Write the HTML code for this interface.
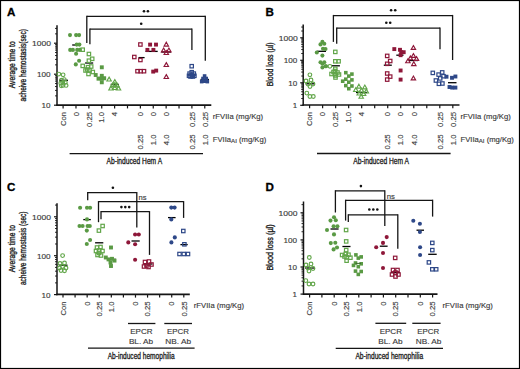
<!DOCTYPE html>
<html><head><meta charset="utf-8"><style>
html,body{margin:0;padding:0;background:#fff;}
#w{position:relative;width:520px;height:369px;overflow:hidden;background:#fff;}
svg{position:absolute;left:0;top:0;}
text{font-family:"Liberation Sans",sans-serif;}
</style></head><body><div id="w">
<svg width="520" height="369" viewBox="0 0 520 369">
<rect x="0" y="0" width="520" height="369" fill="#fff"/>
<line x1="59.00" y1="80.30" x2="68.00" y2="80.30" stroke="#000" stroke-width="1.3"/>
<line x1="72.20" y1="45.00" x2="80.50" y2="45.00" stroke="#000" stroke-width="1.3"/>
<line x1="85.10" y1="63.00" x2="93.20" y2="63.00" stroke="#000" stroke-width="1.3"/>
<line x1="98.00" y1="77.50" x2="106.00" y2="77.50" stroke="#000" stroke-width="1.3"/>
<line x1="110.70" y1="84.40" x2="118.80" y2="84.40" stroke="#000" stroke-width="1.3"/>
<line x1="138.50" y1="57.60" x2="144.60" y2="57.60" stroke="#000" stroke-width="1.3"/>
<line x1="145.50" y1="51.40" x2="157.70" y2="51.40" stroke="#000" stroke-width="1.3"/>
<line x1="161.30" y1="52.00" x2="171.00" y2="52.00" stroke="#000" stroke-width="1.3"/>
<line x1="188.00" y1="74.50" x2="196.00" y2="74.50" stroke="#000" stroke-width="1.3"/>
<line x1="200.50" y1="79.50" x2="209.00" y2="79.50" stroke="#000" stroke-width="1.3"/>
<line x1="305.50" y1="83.80" x2="314.90" y2="83.80" stroke="#000" stroke-width="1.3"/>
<line x1="316.80" y1="51.30" x2="326.00" y2="51.30" stroke="#000" stroke-width="1.3"/>
<line x1="331.80" y1="65.80" x2="339.90" y2="65.80" stroke="#000" stroke-width="1.3"/>
<line x1="356.00" y1="92.50" x2="367.00" y2="92.50" stroke="#000" stroke-width="1.3"/>
<line x1="383.80" y1="65.20" x2="391.80" y2="65.20" stroke="#000" stroke-width="1.3"/>
<line x1="396.30" y1="55.20" x2="403.50" y2="55.20" stroke="#000" stroke-width="1.3"/>
<line x1="409.00" y1="60.50" x2="418.00" y2="60.50" stroke="#000" stroke-width="1.3"/>
<line x1="448.00" y1="82.70" x2="456.50" y2="82.70" stroke="#000" stroke-width="1.3"/>
<line x1="59.00" y1="265.20" x2="67.50" y2="265.20" stroke="#000" stroke-width="1.3"/>
<line x1="83.30" y1="219.60" x2="90.80" y2="219.60" stroke="#000" stroke-width="1.3"/>
<line x1="95.10" y1="242.80" x2="103.30" y2="242.80" stroke="#000" stroke-width="1.3"/>
<line x1="107.00" y1="259.40" x2="116.00" y2="259.40" stroke="#000" stroke-width="1.3"/>
<line x1="131.50" y1="241.00" x2="139.70" y2="241.00" stroke="#000" stroke-width="1.3"/>
<line x1="143.50" y1="264.00" x2="152.50" y2="264.00" stroke="#000" stroke-width="1.3"/>
<line x1="168.00" y1="217.60" x2="175.60" y2="217.60" stroke="#000" stroke-width="1.3"/>
<line x1="180.40" y1="244.60" x2="187.70" y2="244.60" stroke="#000" stroke-width="1.3"/>
<line x1="305.00" y1="268.00" x2="315.00" y2="268.00" stroke="#000" stroke-width="1.3"/>
<line x1="330.50" y1="229.00" x2="338.60" y2="229.00" stroke="#000" stroke-width="1.3"/>
<line x1="342.40" y1="246.50" x2="350.50" y2="246.50" stroke="#000" stroke-width="1.3"/>
<line x1="379.80" y1="246.20" x2="387.60" y2="246.20" stroke="#000" stroke-width="1.3"/>
<line x1="391.00" y1="272.50" x2="400.00" y2="272.50" stroke="#000" stroke-width="1.3"/>
<line x1="416.50" y1="230.20" x2="424.00" y2="230.20" stroke="#000" stroke-width="1.3"/>
<line x1="428.20" y1="254.30" x2="436.70" y2="254.30" stroke="#000" stroke-width="1.3"/>
<line x1="57.00" y1="25.30" x2="57.00" y2="105.80" stroke="#151515" stroke-width="1.5"/>
<line x1="54.00" y1="105.20" x2="57.00" y2="105.20" stroke="#151515" stroke-width="1.2"/>
<line x1="54.00" y1="74.20" x2="57.00" y2="74.20" stroke="#151515" stroke-width="1.2"/>
<line x1="54.00" y1="43.20" x2="57.00" y2="43.20" stroke="#151515" stroke-width="1.2"/>
<line x1="55.00" y1="95.87" x2="57.00" y2="95.87" stroke="#151515" stroke-width="0.9"/>
<line x1="55.00" y1="90.41" x2="57.00" y2="90.41" stroke="#151515" stroke-width="0.9"/>
<line x1="55.00" y1="86.54" x2="57.00" y2="86.54" stroke="#151515" stroke-width="0.9"/>
<line x1="55.00" y1="83.53" x2="57.00" y2="83.53" stroke="#151515" stroke-width="0.9"/>
<line x1="55.00" y1="81.08" x2="57.00" y2="81.08" stroke="#151515" stroke-width="0.9"/>
<line x1="55.00" y1="79.00" x2="57.00" y2="79.00" stroke="#151515" stroke-width="0.9"/>
<line x1="55.00" y1="77.20" x2="57.00" y2="77.20" stroke="#151515" stroke-width="0.9"/>
<line x1="55.00" y1="75.62" x2="57.00" y2="75.62" stroke="#151515" stroke-width="0.9"/>
<line x1="55.00" y1="64.87" x2="57.00" y2="64.87" stroke="#151515" stroke-width="0.9"/>
<line x1="55.00" y1="59.41" x2="57.00" y2="59.41" stroke="#151515" stroke-width="0.9"/>
<line x1="55.00" y1="55.54" x2="57.00" y2="55.54" stroke="#151515" stroke-width="0.9"/>
<line x1="55.00" y1="52.53" x2="57.00" y2="52.53" stroke="#151515" stroke-width="0.9"/>
<line x1="55.00" y1="50.08" x2="57.00" y2="50.08" stroke="#151515" stroke-width="0.9"/>
<line x1="55.00" y1="48.00" x2="57.00" y2="48.00" stroke="#151515" stroke-width="0.9"/>
<line x1="55.00" y1="46.20" x2="57.00" y2="46.20" stroke="#151515" stroke-width="0.9"/>
<line x1="55.00" y1="44.62" x2="57.00" y2="44.62" stroke="#151515" stroke-width="0.9"/>
<line x1="55.00" y1="33.87" x2="57.00" y2="33.87" stroke="#151515" stroke-width="0.9"/>
<line x1="55.00" y1="28.41" x2="57.00" y2="28.41" stroke="#151515" stroke-width="0.9"/>
<text x="50.60" y="108.10" font-size="8" text-anchor="end" font-weight="normal" fill="#3a3a3a" textLength="9.0" lengthAdjust="spacingAndGlyphs" stroke="#3a3a3a" stroke-width="0.15">10</text>
<text x="50.60" y="77.10" font-size="8" text-anchor="end" font-weight="normal" fill="#3a3a3a" textLength="13.6" lengthAdjust="spacingAndGlyphs" stroke="#3a3a3a" stroke-width="0.15">100</text>
<text x="51.00" y="46.10" font-size="8" text-anchor="end" font-weight="normal" fill="#3a3a3a" textLength="19.0" lengthAdjust="spacingAndGlyphs" stroke="#3a3a3a" stroke-width="0.15">1000</text>
<line x1="56.30" y1="105.20" x2="211.30" y2="105.20" stroke="#151515" stroke-width="1.7"/>
<line x1="63.10" y1="105.20" x2="63.10" y2="108.40" stroke="#151515" stroke-width="1.2"/>
<line x1="75.98" y1="105.20" x2="75.98" y2="108.40" stroke="#151515" stroke-width="1.2"/>
<line x1="88.86" y1="105.20" x2="88.86" y2="108.40" stroke="#151515" stroke-width="1.2"/>
<line x1="101.74" y1="105.20" x2="101.74" y2="108.40" stroke="#151515" stroke-width="1.2"/>
<line x1="114.62" y1="105.20" x2="114.62" y2="108.40" stroke="#151515" stroke-width="1.2"/>
<line x1="127.50" y1="105.20" x2="127.50" y2="108.40" stroke="#151515" stroke-width="1.2"/>
<line x1="140.38" y1="105.20" x2="140.38" y2="108.40" stroke="#151515" stroke-width="1.2"/>
<line x1="153.26" y1="105.20" x2="153.26" y2="108.40" stroke="#151515" stroke-width="1.2"/>
<line x1="166.14" y1="105.20" x2="166.14" y2="108.40" stroke="#151515" stroke-width="1.2"/>
<line x1="179.02" y1="105.20" x2="179.02" y2="108.40" stroke="#151515" stroke-width="1.2"/>
<line x1="191.90" y1="105.20" x2="191.90" y2="108.40" stroke="#151515" stroke-width="1.2"/>
<line x1="204.78" y1="105.20" x2="204.78" y2="108.40" stroke="#151515" stroke-width="1.2"/>
<text x="65.85" y="112.00" font-size="7.7" text-anchor="end" font-weight="normal" fill="#3a3a3a" transform="rotate(-90 65.85 112.00)" stroke="#3a3a3a" stroke-width="0.15">Con</text>
<text x="78.73" y="112.00" font-size="7.7" text-anchor="end" font-weight="normal" fill="#3a3a3a" transform="rotate(-90 78.73 112.00)" stroke="#3a3a3a" stroke-width="0.15">0</text>
<text x="91.61" y="112.00" font-size="7.7" text-anchor="end" font-weight="normal" fill="#3a3a3a" transform="rotate(-90 91.61 112.00)" stroke="#3a3a3a" stroke-width="0.15">0.25</text>
<text x="104.49" y="112.00" font-size="7.7" text-anchor="end" font-weight="normal" fill="#3a3a3a" transform="rotate(-90 104.49 112.00)" stroke="#3a3a3a" stroke-width="0.15">1.0</text>
<text x="117.37" y="112.00" font-size="7.7" text-anchor="end" font-weight="normal" fill="#3a3a3a" transform="rotate(-90 117.37 112.00)" stroke="#3a3a3a" stroke-width="0.15">4</text>
<text x="143.13" y="112.00" font-size="7.7" text-anchor="end" font-weight="normal" fill="#3a3a3a" transform="rotate(-90 143.13 112.00)" stroke="#3a3a3a" stroke-width="0.15">0</text>
<text x="156.01" y="112.00" font-size="7.7" text-anchor="end" font-weight="normal" fill="#3a3a3a" transform="rotate(-90 156.01 112.00)" stroke="#3a3a3a" stroke-width="0.15">0</text>
<text x="168.89" y="112.00" font-size="7.7" text-anchor="end" font-weight="normal" fill="#3a3a3a" transform="rotate(-90 168.89 112.00)" stroke="#3a3a3a" stroke-width="0.15">0</text>
<text x="194.65" y="112.00" font-size="7.7" text-anchor="end" font-weight="normal" fill="#3a3a3a" transform="rotate(-90 194.65 112.00)" stroke="#3a3a3a" stroke-width="0.15">0.25</text>
<text x="207.53" y="112.00" font-size="7.7" text-anchor="end" font-weight="normal" fill="#3a3a3a" transform="rotate(-90 207.53 112.00)" stroke="#3a3a3a" stroke-width="0.15">0.25</text>
<text x="143.13" y="134.50" font-size="7.7" text-anchor="end" font-weight="normal" fill="#3a3a3a" transform="rotate(-90 143.13 134.50)" stroke="#3a3a3a" stroke-width="0.15">0.25</text>
<text x="156.01" y="134.50" font-size="7.7" text-anchor="end" font-weight="normal" fill="#3a3a3a" transform="rotate(-90 156.01 134.50)" stroke="#3a3a3a" stroke-width="0.15">1.0</text>
<text x="168.89" y="134.50" font-size="7.7" text-anchor="end" font-weight="normal" fill="#3a3a3a" transform="rotate(-90 168.89 134.50)" stroke="#3a3a3a" stroke-width="0.15">4.0</text>
<text x="194.65" y="134.50" font-size="7.7" text-anchor="end" font-weight="normal" fill="#3a3a3a" transform="rotate(-90 194.65 134.50)" stroke="#3a3a3a" stroke-width="0.15">0.25</text>
<text x="207.53" y="134.50" font-size="7.7" text-anchor="end" font-weight="normal" fill="#3a3a3a" transform="rotate(-90 207.53 134.50)" stroke="#3a3a3a" stroke-width="0.15">1.0</text>
<text x="7.00" y="15.50" font-size="11.6" text-anchor="start" font-weight="bold" fill="#000" stroke="#000" stroke-width="0.3">A</text>
<text x="15.30" y="64.80" font-size="9" text-anchor="middle" font-weight="normal" fill="#222" textLength="47" lengthAdjust="spacingAndGlyphs" transform="rotate(-90 15.30 64.80)" stroke="#222" stroke-width="0.35">Average time to</text>
<text x="26.20" y="65.25" font-size="9" text-anchor="middle" font-weight="normal" fill="#222" textLength="72.3" lengthAdjust="spacingAndGlyphs" transform="rotate(-90 26.20 65.25)" stroke="#222" stroke-width="0.35">acheive hemostasis(sec)</text>
<text x="212.80" y="118.70" font-size="7.6" text-anchor="start" font-weight="normal" fill="#3a3a3a" textLength="50.3" lengthAdjust="spacingAndGlyphs" stroke="#3a3a3a" stroke-width="0.15">rFVIIa (mg/Kg)</text>
<text x="212.80" y="141.60" font-size="7.6" text-anchor="start" font-weight="normal" fill="#3a3a3a" textLength="53.4" lengthAdjust="spacingAndGlyphs" stroke="#3a3a3a" stroke-width="0.15">FVIIa<tspan font-size="6.1" dy="1.7">AI</tspan><tspan dy="-1.7"> (mg/Kg)</tspan></text>
<line x1="69.60" y1="153.60" x2="203.00" y2="153.60" stroke="#151515" stroke-width="1.3"/>
<text x="106.50" y="163.90" font-size="8.6" text-anchor="start" font-weight="normal" fill="#1a1a1a" textLength="55.6" lengthAdjust="spacingAndGlyphs" stroke="#1a1a1a" stroke-width="0.3">Ab-induced Hem A</text>
<line x1="86.80" y1="16.40" x2="205.30" y2="16.40" stroke="#151515" stroke-width="1.25"/>
<line x1="86.80" y1="15.80" x2="86.80" y2="42.90" stroke="#151515" stroke-width="1.3"/>
<line x1="205.30" y1="15.80" x2="205.30" y2="60.70" stroke="#151515" stroke-width="1.3"/>
<line x1="89.90" y1="29.00" x2="191.90" y2="29.00" stroke="#151515" stroke-width="1.25"/>
<line x1="89.90" y1="28.40" x2="89.90" y2="44.20" stroke="#151515" stroke-width="1.3"/>
<line x1="191.90" y1="28.40" x2="191.90" y2="49.90" stroke="#151515" stroke-width="1.3"/>
<circle cx="144.00" cy="11.30" r="1.3" fill="#111"/>
<circle cx="147.90" cy="11.30" r="1.3" fill="#111"/>
<circle cx="141.20" cy="23.70" r="1.3" fill="#111"/>
<circle cx="63.10" cy="74.80" r="1.85" fill="none" stroke="#62a64a" stroke-width="1.15"/>
<circle cx="58.80" cy="74.10" r="1.85" fill="none" stroke="#62a64a" stroke-width="1.15"/>
<circle cx="61.50" cy="80.20" r="1.85" fill="none" stroke="#62a64a" stroke-width="1.15"/>
<circle cx="64.30" cy="79.60" r="1.85" fill="none" stroke="#62a64a" stroke-width="1.15"/>
<circle cx="62.70" cy="82.50" r="1.85" fill="none" stroke="#62a64a" stroke-width="1.15"/>
<circle cx="60.80" cy="83.20" r="1.85" fill="none" stroke="#62a64a" stroke-width="1.15"/>
<circle cx="65.30" cy="82.30" r="1.85" fill="none" stroke="#62a64a" stroke-width="1.15"/>
<circle cx="63.00" cy="85.40" r="1.85" fill="none" stroke="#62a64a" stroke-width="1.15"/>
<circle cx="66.10" cy="85.40" r="1.85" fill="none" stroke="#62a64a" stroke-width="1.15"/>
<circle cx="61.30" cy="85.80" r="1.85" fill="none" stroke="#62a64a" stroke-width="1.15"/>
<circle cx="70.00" cy="35.10" r="2.05" fill="#5a9a44"/>
<circle cx="76.10" cy="35.10" r="2.05" fill="#5a9a44"/>
<circle cx="79.10" cy="35.10" r="2.05" fill="#5a9a44"/>
<circle cx="76.70" cy="44.60" r="2.05" fill="#5a9a44"/>
<circle cx="79.40" cy="44.60" r="2.05" fill="#5a9a44"/>
<circle cx="70.20" cy="49.90" r="2.05" fill="#5a9a44"/>
<circle cx="72.90" cy="49.90" r="2.05" fill="#5a9a44"/>
<circle cx="77.20" cy="49.90" r="2.05" fill="#5a9a44"/>
<circle cx="79.90" cy="49.90" r="2.05" fill="#5a9a44"/>
<circle cx="76.10" cy="53.70" r="2.05" fill="#5a9a44"/>
<circle cx="79.10" cy="60.70" r="2.05" fill="#5a9a44"/>
<circle cx="75.80" cy="64.40" r="2.05" fill="#5a9a44"/>
<rect x="81.00" y="48.00" width="3.4" height="3.4" fill="none" stroke="#62a64a" stroke-width="1.2"/>
<rect x="87.20" y="52.30" width="3.4" height="3.4" fill="none" stroke="#62a64a" stroke-width="1.2"/>
<rect x="87.20" y="59.00" width="3.4" height="3.4" fill="none" stroke="#62a64a" stroke-width="1.2"/>
<rect x="90.50" y="57.10" width="3.4" height="3.4" fill="none" stroke="#62a64a" stroke-width="1.2"/>
<rect x="81.00" y="64.20" width="3.4" height="3.4" fill="none" stroke="#62a64a" stroke-width="1.2"/>
<rect x="86.30" y="65.50" width="3.4" height="3.4" fill="none" stroke="#62a64a" stroke-width="1.2"/>
<rect x="89.50" y="64.80" width="3.4" height="3.4" fill="none" stroke="#62a64a" stroke-width="1.2"/>
<rect x="83.80" y="68.80" width="3.4" height="3.4" fill="none" stroke="#62a64a" stroke-width="1.2"/>
<rect x="87.80" y="68.60" width="3.4" height="3.4" fill="none" stroke="#62a64a" stroke-width="1.2"/>
<rect x="91.10" y="70.30" width="3.4" height="3.4" fill="none" stroke="#62a64a" stroke-width="1.2"/>
<rect x="86.80" y="72.30" width="3.4" height="3.4" fill="none" stroke="#62a64a" stroke-width="1.2"/>
<rect x="85.50" y="67.80" width="3.4" height="3.4" fill="none" stroke="#62a64a" stroke-width="1.2"/>
<rect x="99.85" y="65.35" width="3.9" height="3.9" fill="#5a9a44"/>
<rect x="93.75" y="73.05" width="3.9" height="3.9" fill="#5a9a44"/>
<rect x="96.55" y="76.75" width="3.9" height="3.9" fill="#5a9a44"/>
<rect x="99.85" y="76.75" width="3.9" height="3.9" fill="#5a9a44"/>
<rect x="102.25" y="76.35" width="3.9" height="3.9" fill="#5a9a44"/>
<rect x="99.85" y="73.85" width="3.9" height="3.9" fill="#5a9a44"/>
<rect x="99.85" y="80.35" width="3.9" height="3.9" fill="#5a9a44"/>
<polygon points="109.10,77.14 111.30,80.95 106.90,80.95" fill="none" stroke="#62a64a" stroke-width="1.15" stroke-linejoin="miter"/>
<polygon points="114.80,79.54 117.00,83.35 112.60,83.35" fill="none" stroke="#62a64a" stroke-width="1.15" stroke-linejoin="miter"/>
<polygon points="112.50,83.14 114.70,86.95 110.30,86.95" fill="none" stroke="#62a64a" stroke-width="1.15" stroke-linejoin="miter"/>
<polygon points="117.00,83.14 119.20,86.95 114.80,86.95" fill="none" stroke="#62a64a" stroke-width="1.15" stroke-linejoin="miter"/>
<polygon points="111.00,86.14 113.20,89.95 108.80,89.95" fill="none" stroke="#62a64a" stroke-width="1.15" stroke-linejoin="miter"/>
<polygon points="114.80,85.64 117.00,89.45 112.60,89.45" fill="none" stroke="#62a64a" stroke-width="1.15" stroke-linejoin="miter"/>
<polygon points="118.50,86.14 120.70,89.95 116.30,89.95" fill="none" stroke="#62a64a" stroke-width="1.15" stroke-linejoin="miter"/>
<polygon points="114.80,82.64 117.00,86.45 112.60,86.45" fill="none" stroke="#62a64a" stroke-width="1.15" stroke-linejoin="miter"/>
<rect x="138.70" y="42.80" width="3.4" height="3.4" fill="none" stroke="#8e1739" stroke-width="1.2"/>
<rect x="132.60" y="55.30" width="3.4" height="3.4" fill="none" stroke="#8e1739" stroke-width="1.2"/>
<rect x="138.70" y="58.30" width="3.4" height="3.4" fill="none" stroke="#8e1739" stroke-width="1.2"/>
<rect x="135.80" y="69.50" width="3.4" height="3.4" fill="none" stroke="#8e1739" stroke-width="1.2"/>
<rect x="139.00" y="69.50" width="3.4" height="3.4" fill="none" stroke="#8e1739" stroke-width="1.2"/>
<rect x="142.30" y="69.50" width="3.4" height="3.4" fill="none" stroke="#8e1739" stroke-width="1.2"/>
<rect x="148.15" y="42.65" width="3.9" height="3.9" fill="#8e1739"/>
<rect x="154.05" y="42.65" width="3.9" height="3.9" fill="#8e1739"/>
<rect x="145.45" y="47.95" width="3.9" height="3.9" fill="#8e1739"/>
<rect x="151.45" y="47.95" width="3.9" height="3.9" fill="#8e1739"/>
<rect x="151.25" y="69.65" width="3.9" height="3.9" fill="#8e1739"/>
<rect x="154.25" y="68.65" width="3.9" height="3.9" fill="#8e1739"/>
<polygon points="166.30,42.24 168.50,46.05 164.10,46.05" fill="none" stroke="#8e1739" stroke-width="1.15" stroke-linejoin="miter"/>
<polygon points="163.60,48.04 165.80,51.85 161.40,51.85" fill="none" stroke="#8e1739" stroke-width="1.15" stroke-linejoin="miter"/>
<polygon points="168.90,48.04 171.10,51.85 166.70,51.85" fill="none" stroke="#8e1739" stroke-width="1.15" stroke-linejoin="miter"/>
<polygon points="166.30,50.64 168.50,54.45 164.10,54.45" fill="none" stroke="#8e1739" stroke-width="1.15" stroke-linejoin="miter"/>
<polygon points="166.30,62.64 168.50,66.45 164.10,66.45" fill="none" stroke="#8e1739" stroke-width="1.15" stroke-linejoin="miter"/>
<polygon points="166.30,74.64 168.50,78.45 164.10,78.45" fill="none" stroke="#8e1739" stroke-width="1.15" stroke-linejoin="miter"/>
<rect x="190.00" y="64.50" width="3.4" height="3.4" fill="none" stroke="#2e4888" stroke-width="1.2"/>
<rect x="190.00" y="70.50" width="3.4" height="3.4" fill="none" stroke="#2e4888" stroke-width="1.2"/>
<rect x="187.90" y="71.90" width="3.4" height="3.4" fill="none" stroke="#2e4888" stroke-width="1.2"/>
<rect x="192.10" y="71.90" width="3.4" height="3.4" fill="none" stroke="#2e4888" stroke-width="1.2"/>
<rect x="187.30" y="74.10" width="3.4" height="3.4" fill="none" stroke="#2e4888" stroke-width="1.2"/>
<rect x="190.00" y="73.30" width="3.4" height="3.4" fill="none" stroke="#2e4888" stroke-width="1.2"/>
<rect x="192.70" y="74.10" width="3.4" height="3.4" fill="none" stroke="#2e4888" stroke-width="1.2"/>
<rect x="188.80" y="74.80" width="3.4" height="3.4" fill="none" stroke="#2e4888" stroke-width="1.2"/>
<rect x="191.20" y="74.80" width="3.4" height="3.4" fill="none" stroke="#2e4888" stroke-width="1.2"/>
<rect x="202.80" y="74.20" width="3.6" height="3.6" fill="#2e4888"/>
<rect x="201.20" y="76.70" width="3.6" height="3.6" fill="#2e4888"/>
<rect x="204.40" y="76.70" width="3.6" height="3.6" fill="#2e4888"/>
<rect x="199.90" y="79.80" width="3.6" height="3.6" fill="#2e4888"/>
<rect x="202.80" y="79.40" width="3.6" height="3.6" fill="#2e4888"/>
<rect x="205.50" y="79.80" width="3.6" height="3.6" fill="#2e4888"/>
<line x1="303.20" y1="24.40" x2="303.20" y2="105.80" stroke="#151515" stroke-width="1.5"/>
<line x1="300.20" y1="105.30" x2="303.20" y2="105.30" stroke="#151515" stroke-width="1.2"/>
<line x1="300.20" y1="82.80" x2="303.20" y2="82.80" stroke="#151515" stroke-width="1.2"/>
<line x1="300.20" y1="60.30" x2="303.20" y2="60.30" stroke="#151515" stroke-width="1.2"/>
<line x1="300.20" y1="37.80" x2="303.20" y2="37.80" stroke="#151515" stroke-width="1.2"/>
<line x1="301.20" y1="98.53" x2="303.20" y2="98.53" stroke="#151515" stroke-width="0.9"/>
<line x1="301.20" y1="94.56" x2="303.20" y2="94.56" stroke="#151515" stroke-width="0.9"/>
<line x1="301.20" y1="91.75" x2="303.20" y2="91.75" stroke="#151515" stroke-width="0.9"/>
<line x1="301.20" y1="89.57" x2="303.20" y2="89.57" stroke="#151515" stroke-width="0.9"/>
<line x1="301.20" y1="87.79" x2="303.20" y2="87.79" stroke="#151515" stroke-width="0.9"/>
<line x1="301.20" y1="86.29" x2="303.20" y2="86.29" stroke="#151515" stroke-width="0.9"/>
<line x1="301.20" y1="84.98" x2="303.20" y2="84.98" stroke="#151515" stroke-width="0.9"/>
<line x1="301.20" y1="83.83" x2="303.20" y2="83.83" stroke="#151515" stroke-width="0.9"/>
<line x1="301.20" y1="76.03" x2="303.20" y2="76.03" stroke="#151515" stroke-width="0.9"/>
<line x1="301.20" y1="72.06" x2="303.20" y2="72.06" stroke="#151515" stroke-width="0.9"/>
<line x1="301.20" y1="69.25" x2="303.20" y2="69.25" stroke="#151515" stroke-width="0.9"/>
<line x1="301.20" y1="67.07" x2="303.20" y2="67.07" stroke="#151515" stroke-width="0.9"/>
<line x1="301.20" y1="65.29" x2="303.20" y2="65.29" stroke="#151515" stroke-width="0.9"/>
<line x1="301.20" y1="63.79" x2="303.20" y2="63.79" stroke="#151515" stroke-width="0.9"/>
<line x1="301.20" y1="62.48" x2="303.20" y2="62.48" stroke="#151515" stroke-width="0.9"/>
<line x1="301.20" y1="61.33" x2="303.20" y2="61.33" stroke="#151515" stroke-width="0.9"/>
<line x1="301.20" y1="53.53" x2="303.20" y2="53.53" stroke="#151515" stroke-width="0.9"/>
<line x1="301.20" y1="49.56" x2="303.20" y2="49.56" stroke="#151515" stroke-width="0.9"/>
<line x1="301.20" y1="46.75" x2="303.20" y2="46.75" stroke="#151515" stroke-width="0.9"/>
<line x1="301.20" y1="44.57" x2="303.20" y2="44.57" stroke="#151515" stroke-width="0.9"/>
<line x1="301.20" y1="42.79" x2="303.20" y2="42.79" stroke="#151515" stroke-width="0.9"/>
<line x1="301.20" y1="41.29" x2="303.20" y2="41.29" stroke="#151515" stroke-width="0.9"/>
<line x1="301.20" y1="39.98" x2="303.20" y2="39.98" stroke="#151515" stroke-width="0.9"/>
<line x1="301.20" y1="38.83" x2="303.20" y2="38.83" stroke="#151515" stroke-width="0.9"/>
<line x1="301.20" y1="31.03" x2="303.20" y2="31.03" stroke="#151515" stroke-width="0.9"/>
<line x1="301.20" y1="27.06" x2="303.20" y2="27.06" stroke="#151515" stroke-width="0.9"/>
<text x="297.30" y="108.20" font-size="8" text-anchor="end" font-weight="normal" fill="#3a3a3a" stroke="#3a3a3a" stroke-width="0.15">1</text>
<text x="297.30" y="85.70" font-size="8" text-anchor="end" font-weight="normal" fill="#3a3a3a" textLength="9.0" lengthAdjust="spacingAndGlyphs" stroke="#3a3a3a" stroke-width="0.15">10</text>
<text x="297.30" y="63.20" font-size="8" text-anchor="end" font-weight="normal" fill="#3a3a3a" textLength="13.6" lengthAdjust="spacingAndGlyphs" stroke="#3a3a3a" stroke-width="0.15">100</text>
<text x="297.70" y="40.70" font-size="8" text-anchor="end" font-weight="normal" fill="#3a3a3a" textLength="19.0" lengthAdjust="spacingAndGlyphs" stroke="#3a3a3a" stroke-width="0.15">1000</text>
<line x1="302.50" y1="105.00" x2="459.50" y2="105.00" stroke="#151515" stroke-width="1.7"/>
<line x1="309.60" y1="105.00" x2="309.60" y2="108.20" stroke="#151515" stroke-width="1.2"/>
<line x1="322.62" y1="105.00" x2="322.62" y2="108.20" stroke="#151515" stroke-width="1.2"/>
<line x1="335.64" y1="105.00" x2="335.64" y2="108.20" stroke="#151515" stroke-width="1.2"/>
<line x1="348.66" y1="105.00" x2="348.66" y2="108.20" stroke="#151515" stroke-width="1.2"/>
<line x1="361.68" y1="105.00" x2="361.68" y2="108.20" stroke="#151515" stroke-width="1.2"/>
<line x1="374.70" y1="105.00" x2="374.70" y2="108.20" stroke="#151515" stroke-width="1.2"/>
<line x1="387.72" y1="105.00" x2="387.72" y2="108.20" stroke="#151515" stroke-width="1.2"/>
<line x1="400.74" y1="105.00" x2="400.74" y2="108.20" stroke="#151515" stroke-width="1.2"/>
<line x1="413.76" y1="105.00" x2="413.76" y2="108.20" stroke="#151515" stroke-width="1.2"/>
<line x1="426.78" y1="105.00" x2="426.78" y2="108.20" stroke="#151515" stroke-width="1.2"/>
<line x1="439.80" y1="105.00" x2="439.80" y2="108.20" stroke="#151515" stroke-width="1.2"/>
<line x1="452.82" y1="105.00" x2="452.82" y2="108.20" stroke="#151515" stroke-width="1.2"/>
<text x="312.35" y="112.00" font-size="7.7" text-anchor="end" font-weight="normal" fill="#3a3a3a" transform="rotate(-90 312.35 112.00)" stroke="#3a3a3a" stroke-width="0.15">Con</text>
<text x="325.37" y="112.00" font-size="7.7" text-anchor="end" font-weight="normal" fill="#3a3a3a" transform="rotate(-90 325.37 112.00)" stroke="#3a3a3a" stroke-width="0.15">0</text>
<text x="338.39" y="112.00" font-size="7.7" text-anchor="end" font-weight="normal" fill="#3a3a3a" transform="rotate(-90 338.39 112.00)" stroke="#3a3a3a" stroke-width="0.15">0.25</text>
<text x="351.41" y="112.00" font-size="7.7" text-anchor="end" font-weight="normal" fill="#3a3a3a" transform="rotate(-90 351.41 112.00)" stroke="#3a3a3a" stroke-width="0.15">1.0</text>
<text x="364.43" y="112.00" font-size="7.7" text-anchor="end" font-weight="normal" fill="#3a3a3a" transform="rotate(-90 364.43 112.00)" stroke="#3a3a3a" stroke-width="0.15">4</text>
<text x="390.47" y="112.00" font-size="7.7" text-anchor="end" font-weight="normal" fill="#3a3a3a" transform="rotate(-90 390.47 112.00)" stroke="#3a3a3a" stroke-width="0.15">0</text>
<text x="403.49" y="112.00" font-size="7.7" text-anchor="end" font-weight="normal" fill="#3a3a3a" transform="rotate(-90 403.49 112.00)" stroke="#3a3a3a" stroke-width="0.15">0</text>
<text x="416.51" y="112.00" font-size="7.7" text-anchor="end" font-weight="normal" fill="#3a3a3a" transform="rotate(-90 416.51 112.00)" stroke="#3a3a3a" stroke-width="0.15">0</text>
<text x="442.55" y="112.00" font-size="7.7" text-anchor="end" font-weight="normal" fill="#3a3a3a" transform="rotate(-90 442.55 112.00)" stroke="#3a3a3a" stroke-width="0.15">0.25</text>
<text x="455.57" y="112.00" font-size="7.7" text-anchor="end" font-weight="normal" fill="#3a3a3a" transform="rotate(-90 455.57 112.00)" stroke="#3a3a3a" stroke-width="0.15">0.25</text>
<text x="390.47" y="134.50" font-size="7.7" text-anchor="end" font-weight="normal" fill="#3a3a3a" transform="rotate(-90 390.47 134.50)" stroke="#3a3a3a" stroke-width="0.15">0.25</text>
<text x="403.49" y="134.50" font-size="7.7" text-anchor="end" font-weight="normal" fill="#3a3a3a" transform="rotate(-90 403.49 134.50)" stroke="#3a3a3a" stroke-width="0.15">1.0</text>
<text x="416.51" y="134.50" font-size="7.7" text-anchor="end" font-weight="normal" fill="#3a3a3a" transform="rotate(-90 416.51 134.50)" stroke="#3a3a3a" stroke-width="0.15">4.0</text>
<text x="442.55" y="134.50" font-size="7.7" text-anchor="end" font-weight="normal" fill="#3a3a3a" transform="rotate(-90 442.55 134.50)" stroke="#3a3a3a" stroke-width="0.15">0.25</text>
<text x="455.57" y="134.50" font-size="7.7" text-anchor="end" font-weight="normal" fill="#3a3a3a" transform="rotate(-90 455.57 134.50)" stroke="#3a3a3a" stroke-width="0.15">1.0</text>
<text x="265.60" y="15.50" font-size="11.6" text-anchor="start" font-weight="bold" fill="#000" stroke="#000" stroke-width="0.3">B</text>
<text x="273.00" y="64.35" font-size="9" text-anchor="middle" font-weight="normal" fill="#222" textLength="43.9" lengthAdjust="spacingAndGlyphs" transform="rotate(-90 273.00 64.35)" stroke="#222" stroke-width="0.35">Blood loss (µl)</text>
<text x="460.50" y="118.70" font-size="7.6" text-anchor="start" font-weight="normal" fill="#3a3a3a" textLength="50.3" lengthAdjust="spacingAndGlyphs" stroke="#3a3a3a" stroke-width="0.15">rFVIIa (mg/Kg)</text>
<text x="460.50" y="141.60" font-size="7.6" text-anchor="start" font-weight="normal" fill="#3a3a3a" textLength="53.4" lengthAdjust="spacingAndGlyphs" stroke="#3a3a3a" stroke-width="0.15">FVIIa<tspan font-size="6.1" dy="1.7">AI</tspan><tspan dy="-1.7"> (mg/Kg)</tspan></text>
<line x1="317.00" y1="153.50" x2="450.60" y2="153.50" stroke="#151515" stroke-width="1.3"/>
<text x="353.30" y="163.90" font-size="8.6" text-anchor="start" font-weight="normal" fill="#1a1a1a" textLength="55.7" lengthAdjust="spacingAndGlyphs" stroke="#1a1a1a" stroke-width="0.3">Ab-induced Hem A</text>
<line x1="333.20" y1="15.50" x2="452.60" y2="15.50" stroke="#151515" stroke-width="1.25"/>
<line x1="333.40" y1="14.90" x2="333.40" y2="41.90" stroke="#151515" stroke-width="1.3"/>
<line x1="452.60" y1="14.90" x2="452.60" y2="60.00" stroke="#151515" stroke-width="1.3"/>
<line x1="336.70" y1="28.20" x2="440.00" y2="28.20" stroke="#151515" stroke-width="1.25"/>
<line x1="336.70" y1="27.60" x2="336.70" y2="43.70" stroke="#151515" stroke-width="1.3"/>
<line x1="440.00" y1="27.60" x2="440.00" y2="49.30" stroke="#151515" stroke-width="1.3"/>
<circle cx="391.10" cy="10.30" r="1.3" fill="#111"/>
<circle cx="395.20" cy="10.30" r="1.3" fill="#111"/>
<circle cx="386.30" cy="22.70" r="1.3" fill="#111"/>
<circle cx="390.20" cy="22.70" r="1.3" fill="#111"/>
<circle cx="309.90" cy="74.80" r="1.85" fill="none" stroke="#62a64a" stroke-width="1.15"/>
<circle cx="306.00" cy="81.00" r="1.85" fill="none" stroke="#62a64a" stroke-width="1.15"/>
<circle cx="311.00" cy="80.00" r="1.85" fill="none" stroke="#62a64a" stroke-width="1.15"/>
<circle cx="308.00" cy="84.00" r="1.85" fill="none" stroke="#62a64a" stroke-width="1.15"/>
<circle cx="313.00" cy="84.00" r="1.85" fill="none" stroke="#62a64a" stroke-width="1.15"/>
<circle cx="310.00" cy="86.50" r="1.85" fill="none" stroke="#62a64a" stroke-width="1.15"/>
<circle cx="306.80" cy="93.10" r="1.85" fill="none" stroke="#62a64a" stroke-width="1.15"/>
<circle cx="309.90" cy="96.50" r="1.85" fill="none" stroke="#62a64a" stroke-width="1.15"/>
<circle cx="313.30" cy="96.50" r="1.85" fill="none" stroke="#62a64a" stroke-width="1.15"/>
<circle cx="322.40" cy="41.90" r="2.05" fill="#5a9a44"/>
<circle cx="320.50" cy="44.40" r="2.05" fill="#5a9a44"/>
<circle cx="324.30" cy="43.80" r="2.05" fill="#5a9a44"/>
<circle cx="323.00" cy="48.80" r="2.05" fill="#5a9a44"/>
<circle cx="325.50" cy="49.00" r="2.05" fill="#5a9a44"/>
<circle cx="316.80" cy="52.50" r="2.05" fill="#5a9a44"/>
<circle cx="322.40" cy="55.60" r="2.05" fill="#5a9a44"/>
<circle cx="320.50" cy="62.30" r="2.05" fill="#5a9a44"/>
<circle cx="324.30" cy="62.30" r="2.05" fill="#5a9a44"/>
<circle cx="322.40" cy="63.80" r="2.05" fill="#5a9a44"/>
<circle cx="322.40" cy="67.50" r="2.05" fill="#5a9a44"/>
<circle cx="325.50" cy="66.30" r="2.05" fill="#5a9a44"/>
<circle cx="326.10" cy="66.30" r="2.05" fill="#5a9a44"/>
<circle cx="329.90" cy="66.30" r="1.85" fill="none" stroke="#62a64a" stroke-width="1.15"/>
<rect x="333.60" y="50.20" width="3.4" height="3.4" fill="none" stroke="#62a64a" stroke-width="1.2"/>
<rect x="333.60" y="59.60" width="3.4" height="3.4" fill="none" stroke="#62a64a" stroke-width="1.2"/>
<rect x="336.90" y="59.60" width="3.4" height="3.4" fill="none" stroke="#62a64a" stroke-width="1.2"/>
<rect x="333.60" y="67.10" width="3.4" height="3.4" fill="none" stroke="#62a64a" stroke-width="1.2"/>
<rect x="333.30" y="69.30" width="3.4" height="3.4" fill="none" stroke="#62a64a" stroke-width="1.2"/>
<rect x="329.80" y="72.30" width="3.4" height="3.4" fill="none" stroke="#62a64a" stroke-width="1.2"/>
<rect x="337.30" y="72.80" width="3.4" height="3.4" fill="none" stroke="#62a64a" stroke-width="1.2"/>
<rect x="333.80" y="75.80" width="3.4" height="3.4" fill="none" stroke="#62a64a" stroke-width="1.2"/>
<rect x="333.30" y="72.30" width="3.4" height="3.4" fill="none" stroke="#62a64a" stroke-width="1.2"/>
<rect x="331.80" y="70.30" width="3.4" height="3.4" fill="none" stroke="#62a64a" stroke-width="1.2"/>
<rect x="335.80" y="70.80" width="3.4" height="3.4" fill="none" stroke="#62a64a" stroke-width="1.2"/>
<rect x="333.80" y="73.80" width="3.4" height="3.4" fill="none" stroke="#62a64a" stroke-width="1.2"/>
<rect x="344.00" y="70.90" width="3.6" height="3.6" fill="#5a9a44"/>
<rect x="350.10" y="72.30" width="3.6" height="3.6" fill="#5a9a44"/>
<rect x="347.00" y="74.30" width="3.6" height="3.6" fill="#5a9a44"/>
<rect x="344.00" y="77.40" width="3.6" height="3.6" fill="#5a9a44"/>
<rect x="350.10" y="78.10" width="3.6" height="3.6" fill="#5a9a44"/>
<rect x="340.90" y="79.40" width="3.6" height="3.6" fill="#5a9a44"/>
<rect x="347.00" y="80.40" width="3.6" height="3.6" fill="#5a9a44"/>
<rect x="344.00" y="83.80" width="3.6" height="3.6" fill="#5a9a44"/>
<rect x="350.10" y="84.20" width="3.6" height="3.6" fill="#5a9a44"/>
<rect x="347.00" y="86.90" width="3.6" height="3.6" fill="#5a9a44"/>
<polygon points="358.90,84.24 361.10,88.05 356.70,88.05" fill="none" stroke="#62a64a" stroke-width="1.15" stroke-linejoin="miter"/>
<polygon points="364.80,85.04 367.00,88.85 362.60,88.85" fill="none" stroke="#62a64a" stroke-width="1.15" stroke-linejoin="miter"/>
<polygon points="355.80,87.64 358.00,91.45 353.60,91.45" fill="none" stroke="#62a64a" stroke-width="1.15" stroke-linejoin="miter"/>
<polygon points="361.50,88.14 363.70,91.95 359.30,91.95" fill="none" stroke="#62a64a" stroke-width="1.15" stroke-linejoin="miter"/>
<polygon points="366.30,89.14 368.50,92.95 364.10,92.95" fill="none" stroke="#62a64a" stroke-width="1.15" stroke-linejoin="miter"/>
<polygon points="359.20,91.14 361.40,94.95 357.00,94.95" fill="none" stroke="#62a64a" stroke-width="1.15" stroke-linejoin="miter"/>
<polygon points="363.60,91.64 365.80,95.45 361.40,95.45" fill="none" stroke="#62a64a" stroke-width="1.15" stroke-linejoin="miter"/>
<polygon points="361.20,94.44 363.40,98.25 359.00,98.25" fill="none" stroke="#62a64a" stroke-width="1.15" stroke-linejoin="miter"/>
<rect x="385.50" y="54.20" width="3.4" height="3.4" fill="none" stroke="#8e1739" stroke-width="1.2"/>
<rect x="388.50" y="59.30" width="3.4" height="3.4" fill="none" stroke="#8e1739" stroke-width="1.2"/>
<rect x="385.50" y="62.10" width="3.4" height="3.4" fill="none" stroke="#8e1739" stroke-width="1.2"/>
<rect x="385.50" y="71.80" width="3.4" height="3.4" fill="none" stroke="#8e1739" stroke-width="1.2"/>
<rect x="388.50" y="74.90" width="3.4" height="3.4" fill="none" stroke="#8e1739" stroke-width="1.2"/>
<rect x="385.50" y="77.90" width="3.4" height="3.4" fill="none" stroke="#8e1739" stroke-width="1.2"/>
<rect x="392.35" y="47.15" width="3.9" height="3.9" fill="#8e1739"/>
<rect x="398.05" y="47.85" width="3.9" height="3.9" fill="#8e1739"/>
<rect x="399.25" y="50.25" width="3.9" height="3.9" fill="#8e1739"/>
<rect x="401.75" y="50.25" width="3.9" height="3.9" fill="#8e1739"/>
<rect x="398.65" y="53.25" width="3.9" height="3.9" fill="#8e1739"/>
<rect x="398.65" y="68.55" width="3.9" height="3.9" fill="#8e1739"/>
<rect x="398.65" y="77.65" width="3.9" height="3.9" fill="#8e1739"/>
<polygon points="413.40,45.54 415.60,49.35 411.20,49.35" fill="none" stroke="#8e1739" stroke-width="1.15" stroke-linejoin="miter"/>
<polygon points="407.90,58.94 410.10,62.75 405.70,62.75" fill="none" stroke="#8e1739" stroke-width="1.15" stroke-linejoin="miter"/>
<polygon points="410.40,55.94 412.60,59.75 408.20,59.75" fill="none" stroke="#8e1739" stroke-width="1.15" stroke-linejoin="miter"/>
<polygon points="413.40,53.54 415.60,57.35 411.20,57.35" fill="none" stroke="#8e1739" stroke-width="1.15" stroke-linejoin="miter"/>
<polygon points="416.50,56.54 418.70,60.35 414.30,60.35" fill="none" stroke="#8e1739" stroke-width="1.15" stroke-linejoin="miter"/>
<polygon points="413.80,61.74 416.00,65.55 411.60,65.55" fill="none" stroke="#8e1739" stroke-width="1.15" stroke-linejoin="miter"/>
<polygon points="413.40,76.04 415.60,79.85 411.20,79.85" fill="none" stroke="#8e1739" stroke-width="1.15" stroke-linejoin="miter"/>
<rect x="431.10" y="71.20" width="3.4" height="3.4" fill="none" stroke="#2e4888" stroke-width="1.2"/>
<rect x="436.90" y="72.90" width="3.4" height="3.4" fill="none" stroke="#2e4888" stroke-width="1.2"/>
<rect x="440.50" y="70.70" width="3.4" height="3.4" fill="none" stroke="#2e4888" stroke-width="1.2"/>
<rect x="441.80" y="74.50" width="3.4" height="3.4" fill="none" stroke="#2e4888" stroke-width="1.2"/>
<rect x="434.20" y="78.80" width="3.4" height="3.4" fill="none" stroke="#2e4888" stroke-width="1.2"/>
<rect x="438.50" y="76.70" width="3.4" height="3.4" fill="none" stroke="#2e4888" stroke-width="1.2"/>
<rect x="437.20" y="82.10" width="3.4" height="3.4" fill="none" stroke="#2e4888" stroke-width="1.2"/>
<rect x="440.70" y="81.80" width="3.4" height="3.4" fill="none" stroke="#2e4888" stroke-width="1.2"/>
<rect x="444.55" y="74.75" width="3.9" height="3.9" fill="#2e4888"/>
<rect x="450.05" y="75.85" width="3.9" height="3.9" fill="#2e4888"/>
<rect x="453.45" y="74.55" width="3.9" height="3.9" fill="#2e4888"/>
<rect x="447.55" y="85.05" width="3.9" height="3.9" fill="#2e4888"/>
<rect x="450.25" y="85.65" width="3.9" height="3.9" fill="#2e4888"/>
<rect x="453.45" y="85.65" width="3.9" height="3.9" fill="#2e4888"/>
<line x1="57.00" y1="203.30" x2="57.00" y2="295.20" stroke="#151515" stroke-width="1.5"/>
<line x1="54.00" y1="294.60" x2="57.00" y2="294.60" stroke="#151515" stroke-width="1.2"/>
<line x1="54.00" y1="255.70" x2="57.00" y2="255.70" stroke="#151515" stroke-width="1.2"/>
<line x1="54.00" y1="216.80" x2="57.00" y2="216.80" stroke="#151515" stroke-width="1.2"/>
<line x1="55.00" y1="282.89" x2="57.00" y2="282.89" stroke="#151515" stroke-width="0.9"/>
<line x1="55.00" y1="276.04" x2="57.00" y2="276.04" stroke="#151515" stroke-width="0.9"/>
<line x1="55.00" y1="271.18" x2="57.00" y2="271.18" stroke="#151515" stroke-width="0.9"/>
<line x1="55.00" y1="267.41" x2="57.00" y2="267.41" stroke="#151515" stroke-width="0.9"/>
<line x1="55.00" y1="264.33" x2="57.00" y2="264.33" stroke="#151515" stroke-width="0.9"/>
<line x1="55.00" y1="261.73" x2="57.00" y2="261.73" stroke="#151515" stroke-width="0.9"/>
<line x1="55.00" y1="259.47" x2="57.00" y2="259.47" stroke="#151515" stroke-width="0.9"/>
<line x1="55.00" y1="257.48" x2="57.00" y2="257.48" stroke="#151515" stroke-width="0.9"/>
<line x1="55.00" y1="243.99" x2="57.00" y2="243.99" stroke="#151515" stroke-width="0.9"/>
<line x1="55.00" y1="237.14" x2="57.00" y2="237.14" stroke="#151515" stroke-width="0.9"/>
<line x1="55.00" y1="232.28" x2="57.00" y2="232.28" stroke="#151515" stroke-width="0.9"/>
<line x1="55.00" y1="228.51" x2="57.00" y2="228.51" stroke="#151515" stroke-width="0.9"/>
<line x1="55.00" y1="225.43" x2="57.00" y2="225.43" stroke="#151515" stroke-width="0.9"/>
<line x1="55.00" y1="222.83" x2="57.00" y2="222.83" stroke="#151515" stroke-width="0.9"/>
<line x1="55.00" y1="220.57" x2="57.00" y2="220.57" stroke="#151515" stroke-width="0.9"/>
<line x1="55.00" y1="218.58" x2="57.00" y2="218.58" stroke="#151515" stroke-width="0.9"/>
<line x1="55.00" y1="205.09" x2="57.00" y2="205.09" stroke="#151515" stroke-width="0.9"/>
<text x="50.60" y="297.50" font-size="8" text-anchor="end" font-weight="normal" fill="#3a3a3a" textLength="9.0" lengthAdjust="spacingAndGlyphs" stroke="#3a3a3a" stroke-width="0.15">10</text>
<text x="50.60" y="258.60" font-size="8" text-anchor="end" font-weight="normal" fill="#3a3a3a" textLength="13.6" lengthAdjust="spacingAndGlyphs" stroke="#3a3a3a" stroke-width="0.15">100</text>
<text x="51.00" y="219.70" font-size="8" text-anchor="end" font-weight="normal" fill="#3a3a3a" textLength="19.0" lengthAdjust="spacingAndGlyphs" stroke="#3a3a3a" stroke-width="0.15">1000</text>
<line x1="56.30" y1="294.40" x2="189.80" y2="294.40" stroke="#151515" stroke-width="1.7"/>
<line x1="63.00" y1="294.40" x2="63.00" y2="297.60" stroke="#151515" stroke-width="1.2"/>
<line x1="75.08" y1="294.40" x2="75.08" y2="297.60" stroke="#151515" stroke-width="1.2"/>
<line x1="87.16" y1="294.40" x2="87.16" y2="297.60" stroke="#151515" stroke-width="1.2"/>
<line x1="99.24" y1="294.40" x2="99.24" y2="297.60" stroke="#151515" stroke-width="1.2"/>
<line x1="111.32" y1="294.40" x2="111.32" y2="297.60" stroke="#151515" stroke-width="1.2"/>
<line x1="123.40" y1="294.40" x2="123.40" y2="297.60" stroke="#151515" stroke-width="1.2"/>
<line x1="135.48" y1="294.40" x2="135.48" y2="297.60" stroke="#151515" stroke-width="1.2"/>
<line x1="147.56" y1="294.40" x2="147.56" y2="297.60" stroke="#151515" stroke-width="1.2"/>
<line x1="159.64" y1="294.40" x2="159.64" y2="297.60" stroke="#151515" stroke-width="1.2"/>
<line x1="171.72" y1="294.40" x2="171.72" y2="297.60" stroke="#151515" stroke-width="1.2"/>
<line x1="183.80" y1="294.40" x2="183.80" y2="297.60" stroke="#151515" stroke-width="1.2"/>
<text x="65.75" y="301.50" font-size="7.7" text-anchor="end" font-weight="normal" fill="#3a3a3a" transform="rotate(-90 65.75 301.50)" stroke="#3a3a3a" stroke-width="0.15">Con</text>
<text x="89.91" y="301.50" font-size="7.7" text-anchor="end" font-weight="normal" fill="#3a3a3a" transform="rotate(-90 89.91 301.50)" stroke="#3a3a3a" stroke-width="0.15">0</text>
<text x="101.99" y="301.50" font-size="7.7" text-anchor="end" font-weight="normal" fill="#3a3a3a" transform="rotate(-90 101.99 301.50)" stroke="#3a3a3a" stroke-width="0.15">0.25</text>
<text x="114.07" y="301.50" font-size="7.7" text-anchor="end" font-weight="normal" fill="#3a3a3a" transform="rotate(-90 114.07 301.50)" stroke="#3a3a3a" stroke-width="0.15">1.0</text>
<text x="138.23" y="301.50" font-size="7.7" text-anchor="end" font-weight="normal" fill="#3a3a3a" transform="rotate(-90 138.23 301.50)" stroke="#3a3a3a" stroke-width="0.15">0</text>
<text x="150.31" y="301.50" font-size="7.7" text-anchor="end" font-weight="normal" fill="#3a3a3a" transform="rotate(-90 150.31 301.50)" stroke="#3a3a3a" stroke-width="0.15">0.25</text>
<text x="174.47" y="301.50" font-size="7.7" text-anchor="end" font-weight="normal" fill="#3a3a3a" transform="rotate(-90 174.47 301.50)" stroke="#3a3a3a" stroke-width="0.15">0</text>
<text x="186.55" y="301.50" font-size="7.7" text-anchor="end" font-weight="normal" fill="#3a3a3a" transform="rotate(-90 186.55 301.50)" stroke="#3a3a3a" stroke-width="0.15">0.25</text>
<text x="6.90" y="191.10" font-size="11.6" text-anchor="start" font-weight="bold" fill="#000" stroke="#000" stroke-width="0.3">C</text>
<text x="14.90" y="248.70" font-size="9" text-anchor="middle" font-weight="normal" fill="#222" textLength="47.2" lengthAdjust="spacingAndGlyphs" transform="rotate(-90 14.90 248.70)" stroke="#222" stroke-width="0.35">Average time to</text>
<text x="26.20" y="248.30" font-size="9" text-anchor="middle" font-weight="normal" fill="#222" textLength="73.6" lengthAdjust="spacingAndGlyphs" transform="rotate(-90 26.20 248.30)" stroke="#222" stroke-width="0.35">acheive hemostasis (sec)</text>
<text x="193.80" y="307.80" font-size="7.6" text-anchor="start" font-weight="normal" fill="#3a3a3a" textLength="50.2" lengthAdjust="spacingAndGlyphs" stroke="#3a3a3a" stroke-width="0.15">rFVIIa (mg/Kg)</text>
<line x1="128.00" y1="323.50" x2="155.40" y2="323.50" stroke="#151515" stroke-width="1.3"/>
<line x1="164.30" y1="323.50" x2="192.00" y2="323.50" stroke="#151515" stroke-width="1.3"/>
<text x="141.40" y="333.80" font-size="7.9" text-anchor="middle" font-weight="normal" fill="#3a3a3a" textLength="22.3" lengthAdjust="spacingAndGlyphs" stroke="#3a3a3a" stroke-width="0.15">EPCR</text>
<text x="141.00" y="343.50" font-size="7.9" text-anchor="middle" font-weight="normal" fill="#3a3a3a" textLength="24.2" lengthAdjust="spacingAndGlyphs" stroke="#3a3a3a" stroke-width="0.15">BL. Ab</text>
<text x="177.90" y="333.80" font-size="7.9" text-anchor="middle" font-weight="normal" fill="#3a3a3a" textLength="22.0" lengthAdjust="spacingAndGlyphs" stroke="#3a3a3a" stroke-width="0.15">EPCR</text>
<text x="178.20" y="343.50" font-size="7.9" text-anchor="middle" font-weight="normal" fill="#3a3a3a" textLength="25.7" lengthAdjust="spacingAndGlyphs" stroke="#3a3a3a" stroke-width="0.15">NB. Ab</text>
<line x1="88.00" y1="348.20" x2="194.60" y2="348.20" stroke="#151515" stroke-width="1.3"/>
<text x="107.70" y="358.50" font-size="8.6" text-anchor="start" font-weight="normal" fill="#1a1a1a" textLength="66.9" lengthAdjust="spacingAndGlyphs" stroke="#1a1a1a" stroke-width="0.3">Ab-induced hemophilia</text>
<line x1="87.70" y1="192.70" x2="136.80" y2="192.70" stroke="#151515" stroke-width="1.25"/>
<line x1="87.70" y1="192.10" x2="87.70" y2="200.30" stroke="#151515" stroke-width="1.3"/>
<line x1="136.80" y1="192.10" x2="136.80" y2="227.50" stroke="#151515" stroke-width="1.3"/>
<line x1="98.50" y1="201.70" x2="183.60" y2="201.70" stroke="#151515" stroke-width="1.25"/>
<line x1="98.50" y1="201.10" x2="98.50" y2="222.20" stroke="#151515" stroke-width="1.3"/>
<line x1="183.60" y1="201.10" x2="183.60" y2="217.90" stroke="#151515" stroke-width="1.3"/>
<line x1="101.00" y1="211.70" x2="149.50" y2="211.70" stroke="#151515" stroke-width="1.25"/>
<line x1="101.00" y1="211.10" x2="101.00" y2="219.30" stroke="#151515" stroke-width="1.3"/>
<line x1="149.50" y1="211.10" x2="149.50" y2="254.90" stroke="#151515" stroke-width="1.3"/>
<circle cx="112.90" cy="187.70" r="1.3" fill="#111"/>
<circle cx="121.40" cy="207.10" r="1.3" fill="#111"/>
<circle cx="125.30" cy="207.10" r="1.3" fill="#111"/>
<circle cx="129.20" cy="207.10" r="1.3" fill="#111"/>
<text x="138.60" y="200.20" font-size="7.6" text-anchor="start" font-weight="normal" fill="#3a3a3a" textLength="8.0" lengthAdjust="spacingAndGlyphs" stroke="#3a3a3a" stroke-width="0.15">ns</text>
<circle cx="62.60" cy="255.60" r="1.85" fill="none" stroke="#62a64a" stroke-width="1.15"/>
<circle cx="60.00" cy="263.50" r="1.85" fill="none" stroke="#62a64a" stroke-width="1.15"/>
<circle cx="64.50" cy="263.00" r="1.85" fill="none" stroke="#62a64a" stroke-width="1.15"/>
<circle cx="62.50" cy="266.50" r="1.85" fill="none" stroke="#62a64a" stroke-width="1.15"/>
<circle cx="59.50" cy="268.00" r="1.85" fill="none" stroke="#62a64a" stroke-width="1.15"/>
<circle cx="66.00" cy="268.00" r="1.85" fill="none" stroke="#62a64a" stroke-width="1.15"/>
<circle cx="61.00" cy="270.50" r="1.85" fill="none" stroke="#62a64a" stroke-width="1.15"/>
<circle cx="64.50" cy="270.80" r="1.85" fill="none" stroke="#62a64a" stroke-width="1.15"/>
<circle cx="80.10" cy="207.80" r="2.05" fill="#5a9a44"/>
<circle cx="87.00" cy="207.80" r="2.05" fill="#5a9a44"/>
<circle cx="90.10" cy="207.80" r="2.05" fill="#5a9a44"/>
<circle cx="87.00" cy="219.40" r="2.05" fill="#5a9a44"/>
<circle cx="79.50" cy="226.00" r="2.05" fill="#5a9a44"/>
<circle cx="82.60" cy="226.00" r="2.05" fill="#5a9a44"/>
<circle cx="87.60" cy="226.00" r="2.05" fill="#5a9a44"/>
<circle cx="89.80" cy="226.00" r="2.05" fill="#5a9a44"/>
<circle cx="86.80" cy="230.60" r="2.05" fill="#5a9a44"/>
<circle cx="90.10" cy="240.00" r="2.05" fill="#5a9a44"/>
<circle cx="86.80" cy="244.00" r="2.05" fill="#5a9a44"/>
<rect x="100.90" y="224.30" width="3.4" height="3.4" fill="none" stroke="#62a64a" stroke-width="1.2"/>
<rect x="97.20" y="228.90" width="3.4" height="3.4" fill="none" stroke="#62a64a" stroke-width="1.2"/>
<rect x="95.30" y="245.80" width="3.4" height="3.4" fill="none" stroke="#62a64a" stroke-width="1.2"/>
<rect x="98.80" y="245.30" width="3.4" height="3.4" fill="none" stroke="#62a64a" stroke-width="1.2"/>
<rect x="94.30" y="249.30" width="3.4" height="3.4" fill="none" stroke="#62a64a" stroke-width="1.2"/>
<rect x="97.30" y="248.80" width="3.4" height="3.4" fill="none" stroke="#62a64a" stroke-width="1.2"/>
<rect x="100.80" y="249.30" width="3.4" height="3.4" fill="none" stroke="#62a64a" stroke-width="1.2"/>
<rect x="95.80" y="253.30" width="3.4" height="3.4" fill="none" stroke="#62a64a" stroke-width="1.2"/>
<rect x="99.30" y="253.80" width="3.4" height="3.4" fill="none" stroke="#62a64a" stroke-width="1.2"/>
<rect x="97.30" y="251.30" width="3.4" height="3.4" fill="none" stroke="#62a64a" stroke-width="1.2"/>
<rect x="109.05" y="245.55" width="3.9" height="3.9" fill="#5a9a44"/>
<rect x="103.85" y="255.55" width="3.9" height="3.9" fill="#5a9a44"/>
<rect x="106.55" y="257.45" width="3.9" height="3.9" fill="#5a9a44"/>
<rect x="110.05" y="256.85" width="3.9" height="3.9" fill="#5a9a44"/>
<rect x="112.55" y="258.65" width="3.9" height="3.9" fill="#5a9a44"/>
<rect x="108.55" y="260.55" width="3.9" height="3.9" fill="#5a9a44"/>
<rect x="109.05" y="264.05" width="3.9" height="3.9" fill="#5a9a44"/>
<circle cx="135.10" cy="234.50" r="2.05" fill="#8e1739"/>
<circle cx="138.80" cy="234.50" r="2.05" fill="#8e1739"/>
<circle cx="128.30" cy="242.40" r="2.05" fill="#8e1739"/>
<circle cx="135.10" cy="244.30" r="2.05" fill="#8e1739"/>
<circle cx="135.10" cy="259.80" r="2.05" fill="#8e1739"/>
<rect x="143.30" y="260.30" width="3.4" height="3.4" fill="none" stroke="#8e1739" stroke-width="1.2"/>
<rect x="147.30" y="259.80" width="3.4" height="3.4" fill="none" stroke="#8e1739" stroke-width="1.2"/>
<rect x="149.80" y="262.80" width="3.4" height="3.4" fill="none" stroke="#8e1739" stroke-width="1.2"/>
<rect x="144.80" y="263.80" width="3.4" height="3.4" fill="none" stroke="#8e1739" stroke-width="1.2"/>
<rect x="142.30" y="264.80" width="3.4" height="3.4" fill="none" stroke="#8e1739" stroke-width="1.2"/>
<rect x="146.80" y="265.30" width="3.4" height="3.4" fill="none" stroke="#8e1739" stroke-width="1.2"/>
<circle cx="171.30" cy="207.60" r="2.05" fill="#2e4888"/>
<circle cx="174.60" cy="207.60" r="2.05" fill="#2e4888"/>
<circle cx="171.30" cy="219.40" r="2.05" fill="#2e4888"/>
<circle cx="174.80" cy="237.40" r="2.05" fill="#2e4888"/>
<circle cx="171.40" cy="242.40" r="2.05" fill="#2e4888"/>
<rect x="181.60" y="229.30" width="3.4" height="3.4" fill="none" stroke="#2e4888" stroke-width="1.2"/>
<rect x="182.70" y="242.60" width="3.4" height="3.4" fill="none" stroke="#2e4888" stroke-width="1.2"/>
<rect x="177.80" y="252.30" width="3.4" height="3.4" fill="none" stroke="#2e4888" stroke-width="1.2"/>
<rect x="182.10" y="252.30" width="3.4" height="3.4" fill="none" stroke="#2e4888" stroke-width="1.2"/>
<rect x="186.30" y="252.30" width="3.4" height="3.4" fill="none" stroke="#2e4888" stroke-width="1.2"/>
<line x1="303.50" y1="201.50" x2="303.50" y2="294.80" stroke="#151515" stroke-width="1.5"/>
<line x1="300.50" y1="294.10" x2="303.50" y2="294.10" stroke="#151515" stroke-width="1.2"/>
<line x1="300.50" y1="267.00" x2="303.50" y2="267.00" stroke="#151515" stroke-width="1.2"/>
<line x1="300.50" y1="239.90" x2="303.50" y2="239.90" stroke="#151515" stroke-width="1.2"/>
<line x1="300.50" y1="212.80" x2="303.50" y2="212.80" stroke="#151515" stroke-width="1.2"/>
<line x1="301.50" y1="285.94" x2="303.50" y2="285.94" stroke="#151515" stroke-width="0.9"/>
<line x1="301.50" y1="281.17" x2="303.50" y2="281.17" stroke="#151515" stroke-width="0.9"/>
<line x1="301.50" y1="277.78" x2="303.50" y2="277.78" stroke="#151515" stroke-width="0.9"/>
<line x1="301.50" y1="275.16" x2="303.50" y2="275.16" stroke="#151515" stroke-width="0.9"/>
<line x1="301.50" y1="273.01" x2="303.50" y2="273.01" stroke="#151515" stroke-width="0.9"/>
<line x1="301.50" y1="271.20" x2="303.50" y2="271.20" stroke="#151515" stroke-width="0.9"/>
<line x1="301.50" y1="269.63" x2="303.50" y2="269.63" stroke="#151515" stroke-width="0.9"/>
<line x1="301.50" y1="268.24" x2="303.50" y2="268.24" stroke="#151515" stroke-width="0.9"/>
<line x1="301.50" y1="258.84" x2="303.50" y2="258.84" stroke="#151515" stroke-width="0.9"/>
<line x1="301.50" y1="254.07" x2="303.50" y2="254.07" stroke="#151515" stroke-width="0.9"/>
<line x1="301.50" y1="250.68" x2="303.50" y2="250.68" stroke="#151515" stroke-width="0.9"/>
<line x1="301.50" y1="248.06" x2="303.50" y2="248.06" stroke="#151515" stroke-width="0.9"/>
<line x1="301.50" y1="245.91" x2="303.50" y2="245.91" stroke="#151515" stroke-width="0.9"/>
<line x1="301.50" y1="244.10" x2="303.50" y2="244.10" stroke="#151515" stroke-width="0.9"/>
<line x1="301.50" y1="242.53" x2="303.50" y2="242.53" stroke="#151515" stroke-width="0.9"/>
<line x1="301.50" y1="241.14" x2="303.50" y2="241.14" stroke="#151515" stroke-width="0.9"/>
<line x1="301.50" y1="231.74" x2="303.50" y2="231.74" stroke="#151515" stroke-width="0.9"/>
<line x1="301.50" y1="226.97" x2="303.50" y2="226.97" stroke="#151515" stroke-width="0.9"/>
<line x1="301.50" y1="223.58" x2="303.50" y2="223.58" stroke="#151515" stroke-width="0.9"/>
<line x1="301.50" y1="220.96" x2="303.50" y2="220.96" stroke="#151515" stroke-width="0.9"/>
<line x1="301.50" y1="218.81" x2="303.50" y2="218.81" stroke="#151515" stroke-width="0.9"/>
<line x1="301.50" y1="217.00" x2="303.50" y2="217.00" stroke="#151515" stroke-width="0.9"/>
<line x1="301.50" y1="215.43" x2="303.50" y2="215.43" stroke="#151515" stroke-width="0.9"/>
<line x1="301.50" y1="214.04" x2="303.50" y2="214.04" stroke="#151515" stroke-width="0.9"/>
<line x1="301.50" y1="204.64" x2="303.50" y2="204.64" stroke="#151515" stroke-width="0.9"/>
<text x="297.00" y="297.00" font-size="8" text-anchor="end" font-weight="normal" fill="#3a3a3a" stroke="#3a3a3a" stroke-width="0.15">1</text>
<text x="297.00" y="269.90" font-size="8" text-anchor="end" font-weight="normal" fill="#3a3a3a" textLength="9.0" lengthAdjust="spacingAndGlyphs" stroke="#3a3a3a" stroke-width="0.15">10</text>
<text x="297.00" y="242.80" font-size="8" text-anchor="end" font-weight="normal" fill="#3a3a3a" textLength="13.6" lengthAdjust="spacingAndGlyphs" stroke="#3a3a3a" stroke-width="0.15">100</text>
<text x="297.40" y="215.70" font-size="8" text-anchor="end" font-weight="normal" fill="#3a3a3a" textLength="19.0" lengthAdjust="spacingAndGlyphs" stroke="#3a3a3a" stroke-width="0.15">1000</text>
<line x1="302.80" y1="294.20" x2="437.50" y2="294.20" stroke="#151515" stroke-width="1.7"/>
<line x1="309.60" y1="294.20" x2="309.60" y2="297.40" stroke="#151515" stroke-width="1.2"/>
<line x1="321.90" y1="294.20" x2="321.90" y2="297.40" stroke="#151515" stroke-width="1.2"/>
<line x1="334.20" y1="294.20" x2="334.20" y2="297.40" stroke="#151515" stroke-width="1.2"/>
<line x1="346.50" y1="294.20" x2="346.50" y2="297.40" stroke="#151515" stroke-width="1.2"/>
<line x1="358.80" y1="294.20" x2="358.80" y2="297.40" stroke="#151515" stroke-width="1.2"/>
<line x1="371.10" y1="294.20" x2="371.10" y2="297.40" stroke="#151515" stroke-width="1.2"/>
<line x1="383.40" y1="294.20" x2="383.40" y2="297.40" stroke="#151515" stroke-width="1.2"/>
<line x1="395.70" y1="294.20" x2="395.70" y2="297.40" stroke="#151515" stroke-width="1.2"/>
<line x1="408.00" y1="294.20" x2="408.00" y2="297.40" stroke="#151515" stroke-width="1.2"/>
<line x1="420.30" y1="294.20" x2="420.30" y2="297.40" stroke="#151515" stroke-width="1.2"/>
<line x1="432.60" y1="294.20" x2="432.60" y2="297.40" stroke="#151515" stroke-width="1.2"/>
<text x="312.35" y="301.50" font-size="7.7" text-anchor="end" font-weight="normal" fill="#3a3a3a" transform="rotate(-90 312.35 301.50)" stroke="#3a3a3a" stroke-width="0.15">Con</text>
<text x="336.95" y="301.50" font-size="7.7" text-anchor="end" font-weight="normal" fill="#3a3a3a" transform="rotate(-90 336.95 301.50)" stroke="#3a3a3a" stroke-width="0.15">0</text>
<text x="349.25" y="301.50" font-size="7.7" text-anchor="end" font-weight="normal" fill="#3a3a3a" transform="rotate(-90 349.25 301.50)" stroke="#3a3a3a" stroke-width="0.15">0.25</text>
<text x="361.55" y="301.50" font-size="7.7" text-anchor="end" font-weight="normal" fill="#3a3a3a" transform="rotate(-90 361.55 301.50)" stroke="#3a3a3a" stroke-width="0.15">1.0</text>
<text x="386.15" y="301.50" font-size="7.7" text-anchor="end" font-weight="normal" fill="#3a3a3a" transform="rotate(-90 386.15 301.50)" stroke="#3a3a3a" stroke-width="0.15">0</text>
<text x="398.45" y="301.50" font-size="7.7" text-anchor="end" font-weight="normal" fill="#3a3a3a" transform="rotate(-90 398.45 301.50)" stroke="#3a3a3a" stroke-width="0.15">0.25</text>
<text x="423.05" y="301.50" font-size="7.7" text-anchor="end" font-weight="normal" fill="#3a3a3a" transform="rotate(-90 423.05 301.50)" stroke="#3a3a3a" stroke-width="0.15">0</text>
<text x="435.35" y="301.50" font-size="7.7" text-anchor="end" font-weight="normal" fill="#3a3a3a" transform="rotate(-90 435.35 301.50)" stroke="#3a3a3a" stroke-width="0.15">0.25</text>
<text x="265.60" y="191.10" font-size="11.6" text-anchor="start" font-weight="bold" fill="#000" stroke="#000" stroke-width="0.3">D</text>
<text x="272.60" y="247.45" font-size="9" text-anchor="middle" font-weight="normal" fill="#222" textLength="46.1" lengthAdjust="spacingAndGlyphs" transform="rotate(-90 272.60 247.45)" stroke="#222" stroke-width="0.35">Blood loss (µl)</text>
<text x="442.50" y="307.80" font-size="7.6" text-anchor="start" font-weight="normal" fill="#3a3a3a" textLength="50.4" lengthAdjust="spacingAndGlyphs" stroke="#3a3a3a" stroke-width="0.15">rFVIIa (mg/Kg)</text>
<line x1="375.40" y1="323.30" x2="406.20" y2="323.30" stroke="#151515" stroke-width="1.3"/>
<line x1="412.30" y1="323.30" x2="440.60" y2="323.30" stroke="#151515" stroke-width="1.3"/>
<text x="390.80" y="333.80" font-size="7.9" text-anchor="middle" font-weight="normal" fill="#3a3a3a" textLength="22.3" lengthAdjust="spacingAndGlyphs" stroke="#3a3a3a" stroke-width="0.15">EPCR</text>
<text x="390.40" y="343.50" font-size="7.9" text-anchor="middle" font-weight="normal" fill="#3a3a3a" textLength="24.2" lengthAdjust="spacingAndGlyphs" stroke="#3a3a3a" stroke-width="0.15">BL. Ab</text>
<text x="428.30" y="333.80" font-size="7.9" text-anchor="middle" font-weight="normal" fill="#3a3a3a" textLength="22.0" lengthAdjust="spacingAndGlyphs" stroke="#3a3a3a" stroke-width="0.15">EPCR</text>
<text x="428.60" y="343.50" font-size="7.9" text-anchor="middle" font-weight="normal" fill="#3a3a3a" textLength="25.7" lengthAdjust="spacingAndGlyphs" stroke="#3a3a3a" stroke-width="0.15">NB. Ab</text>
<line x1="335.70" y1="348.30" x2="443.00" y2="348.30" stroke="#151515" stroke-width="1.3"/>
<text x="355.40" y="358.50" font-size="8.6" text-anchor="start" font-weight="normal" fill="#1a1a1a" textLength="67.7" lengthAdjust="spacingAndGlyphs" stroke="#1a1a1a" stroke-width="0.3">Ab-induced hemophilia</text>
<line x1="335.40" y1="190.80" x2="384.80" y2="190.80" stroke="#151515" stroke-width="1.25"/>
<line x1="335.40" y1="190.20" x2="335.40" y2="212.50" stroke="#151515" stroke-width="1.3"/>
<line x1="384.80" y1="190.20" x2="384.80" y2="226.00" stroke="#151515" stroke-width="1.3"/>
<line x1="345.60" y1="200.30" x2="432.60" y2="200.30" stroke="#151515" stroke-width="1.25"/>
<line x1="345.60" y1="199.70" x2="345.60" y2="220.60" stroke="#151515" stroke-width="1.3"/>
<line x1="432.60" y1="199.70" x2="432.60" y2="216.60" stroke="#151515" stroke-width="1.3"/>
<line x1="348.30" y1="214.90" x2="397.80" y2="214.90" stroke="#151515" stroke-width="1.25"/>
<line x1="348.30" y1="214.30" x2="348.30" y2="222.00" stroke="#151515" stroke-width="1.3"/>
<line x1="397.80" y1="214.30" x2="397.80" y2="248.80" stroke="#151515" stroke-width="1.3"/>
<circle cx="360.90" cy="186.10" r="1.3" fill="#111"/>
<circle cx="369.30" cy="209.50" r="1.3" fill="#111"/>
<circle cx="373.30" cy="209.50" r="1.3" fill="#111"/>
<circle cx="377.30" cy="209.50" r="1.3" fill="#111"/>
<text x="386.80" y="198.80" font-size="7.6" text-anchor="start" font-weight="normal" fill="#3a3a3a" textLength="8.2" lengthAdjust="spacingAndGlyphs" stroke="#3a3a3a" stroke-width="0.15">ns</text>
<circle cx="309.30" cy="257.50" r="1.85" fill="none" stroke="#62a64a" stroke-width="1.15"/>
<circle cx="306.00" cy="265.00" r="1.85" fill="none" stroke="#62a64a" stroke-width="1.15"/>
<circle cx="311.00" cy="264.00" r="1.85" fill="none" stroke="#62a64a" stroke-width="1.15"/>
<circle cx="308.00" cy="268.00" r="1.85" fill="none" stroke="#62a64a" stroke-width="1.15"/>
<circle cx="313.00" cy="268.50" r="1.85" fill="none" stroke="#62a64a" stroke-width="1.15"/>
<circle cx="309.00" cy="271.00" r="1.85" fill="none" stroke="#62a64a" stroke-width="1.15"/>
<circle cx="305.80" cy="280.60" r="1.85" fill="none" stroke="#62a64a" stroke-width="1.15"/>
<circle cx="309.00" cy="284.00" r="1.85" fill="none" stroke="#62a64a" stroke-width="1.15"/>
<circle cx="313.00" cy="284.00" r="1.85" fill="none" stroke="#62a64a" stroke-width="1.15"/>
<circle cx="334.00" cy="217.30" r="2.05" fill="#5a9a44"/>
<circle cx="330.50" cy="220.60" r="2.05" fill="#5a9a44"/>
<circle cx="335.80" cy="220.30" r="2.05" fill="#5a9a44"/>
<circle cx="333.60" cy="226.30" r="2.05" fill="#5a9a44"/>
<circle cx="337.40" cy="226.30" r="2.05" fill="#5a9a44"/>
<circle cx="327.00" cy="230.00" r="2.05" fill="#5a9a44"/>
<circle cx="334.00" cy="234.40" r="2.05" fill="#5a9a44"/>
<circle cx="330.80" cy="243.10" r="2.05" fill="#5a9a44"/>
<circle cx="335.30" cy="242.80" r="2.05" fill="#5a9a44"/>
<circle cx="337.00" cy="247.50" r="2.05" fill="#5a9a44"/>
<circle cx="333.60" cy="249.40" r="2.05" fill="#5a9a44"/>
<rect x="344.40" y="228.30" width="3.4" height="3.4" fill="none" stroke="#62a64a" stroke-width="1.2"/>
<rect x="344.50" y="239.70" width="3.4" height="3.4" fill="none" stroke="#62a64a" stroke-width="1.2"/>
<rect x="344.50" y="248.40" width="3.4" height="3.4" fill="none" stroke="#62a64a" stroke-width="1.2"/>
<rect x="340.40" y="253.30" width="3.4" height="3.4" fill="none" stroke="#62a64a" stroke-width="1.2"/>
<rect x="344.10" y="252.20" width="3.4" height="3.4" fill="none" stroke="#62a64a" stroke-width="1.2"/>
<rect x="346.80" y="253.00" width="3.4" height="3.4" fill="none" stroke="#62a64a" stroke-width="1.2"/>
<rect x="348.70" y="256.00" width="3.4" height="3.4" fill="none" stroke="#62a64a" stroke-width="1.2"/>
<rect x="344.90" y="255.60" width="3.4" height="3.4" fill="none" stroke="#62a64a" stroke-width="1.2"/>
<rect x="344.90" y="259.00" width="3.4" height="3.4" fill="none" stroke="#62a64a" stroke-width="1.2"/>
<rect x="342.80" y="254.80" width="3.4" height="3.4" fill="none" stroke="#62a64a" stroke-width="1.2"/>
<rect x="354.10" y="253.10" width="3.6" height="3.6" fill="#5a9a44"/>
<rect x="359.40" y="255.10" width="3.6" height="3.6" fill="#5a9a44"/>
<rect x="356.50" y="256.30" width="3.6" height="3.6" fill="#5a9a44"/>
<rect x="353.70" y="261.20" width="3.6" height="3.6" fill="#5a9a44"/>
<rect x="359.40" y="262.00" width="3.6" height="3.6" fill="#5a9a44"/>
<rect x="351.70" y="263.60" width="3.6" height="3.6" fill="#5a9a44"/>
<rect x="356.50" y="264.90" width="3.6" height="3.6" fill="#5a9a44"/>
<rect x="353.70" y="269.30" width="3.6" height="3.6" fill="#5a9a44"/>
<rect x="359.40" y="269.70" width="3.6" height="3.6" fill="#5a9a44"/>
<rect x="356.50" y="272.60" width="3.6" height="3.6" fill="#5a9a44"/>
<line x1="355.50" y1="263.40" x2="361.00" y2="263.40" stroke="#3d6a2e" stroke-width="1.0"/>
<circle cx="386.70" cy="237.10" r="2.05" fill="#8e1739"/>
<circle cx="383.00" cy="242.90" r="2.05" fill="#8e1739"/>
<circle cx="376.20" cy="247.30" r="2.05" fill="#8e1739"/>
<circle cx="383.00" cy="253.00" r="2.05" fill="#8e1739"/>
<circle cx="383.00" cy="268.00" r="2.05" fill="#8e1739"/>
<rect x="393.50" y="256.20" width="3.4" height="3.4" fill="none" stroke="#8e1739" stroke-width="1.2"/>
<rect x="391.30" y="268.30" width="3.4" height="3.4" fill="none" stroke="#8e1739" stroke-width="1.2"/>
<rect x="395.80" y="268.30" width="3.4" height="3.4" fill="none" stroke="#8e1739" stroke-width="1.2"/>
<rect x="393.80" y="270.80" width="3.4" height="3.4" fill="none" stroke="#8e1739" stroke-width="1.2"/>
<rect x="390.30" y="272.80" width="3.4" height="3.4" fill="none" stroke="#8e1739" stroke-width="1.2"/>
<rect x="396.80" y="272.80" width="3.4" height="3.4" fill="none" stroke="#8e1739" stroke-width="1.2"/>
<rect x="393.80" y="274.80" width="3.4" height="3.4" fill="none" stroke="#8e1739" stroke-width="1.2"/>
<circle cx="413.30" cy="220.70" r="2.05" fill="#2e4888"/>
<circle cx="419.90" cy="223.80" r="2.05" fill="#2e4888"/>
<circle cx="419.90" cy="232.00" r="2.05" fill="#2e4888"/>
<circle cx="420.10" cy="247.30" r="2.05" fill="#2e4888"/>
<circle cx="420.10" cy="255.00" r="2.05" fill="#2e4888"/>
<rect x="430.60" y="241.20" width="3.4" height="3.4" fill="none" stroke="#2e4888" stroke-width="1.2"/>
<rect x="430.60" y="248.40" width="3.4" height="3.4" fill="none" stroke="#2e4888" stroke-width="1.2"/>
<rect x="427.20" y="260.70" width="3.4" height="3.4" fill="none" stroke="#2e4888" stroke-width="1.2"/>
<rect x="430.60" y="267.60" width="3.4" height="3.4" fill="none" stroke="#2e4888" stroke-width="1.2"/>
<rect x="434.50" y="267.60" width="3.4" height="3.4" fill="none" stroke="#2e4888" stroke-width="1.2"/>
<rect x="0.5" y="0.5" width="519" height="368" fill="none" stroke="#000" stroke-width="1.2"/>
</svg></div></body></html>
